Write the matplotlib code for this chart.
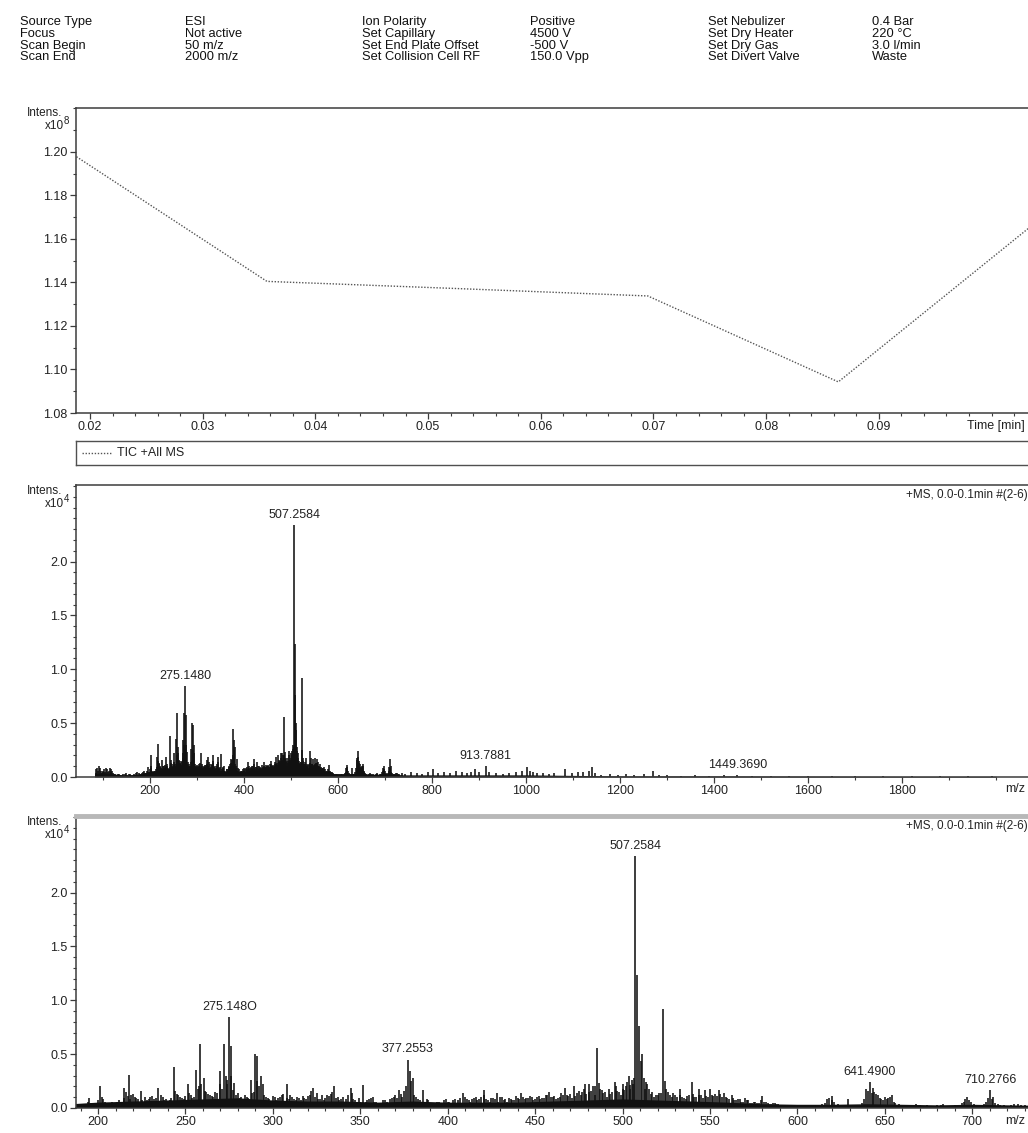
import matplotlib
matplotlib.use("Agg")
import matplotlib.pyplot as plt
from matplotlib.ticker import MultipleLocator, FixedLocator, FormatStrFormatter

plt.rcParams['font.family'] = ['Liberation Sans', 'DejaVu Sans']

W, H = 1028, 1133

# ---------------------------
# header (acquisition parameters)
# ---------------------------
hdr_names1 = ["Source Type", "Focus", "Scan Begin", "Scan End"]
hdr_vals1 = ["ESI", "Not active", "50 m/z", "2000 m/z"]
hdr_names2 = ["Ion Polarity", "Set Capillary", "Set End Plate Offset", "Set Collision Cell RF"]
hdr_vals2 = ["Positive", "4500 V", "-500 V", "150.0 Vpp"]
hdr_names3 = ["Set Nebulizer", "Set Dry Heater", "Set Dry Gas", "Set Divert Valve"]
hdr_vals3 = ["0.4 Bar", "220 °C", "3.0 l/min", "Waste"]

# ---------------------------
# TIC trace (x10^8)
# ---------------------------
tic_time = [0.0188, 0.0357, 0.0526, 0.0695, 0.0864, 0.1033]
tic_int = [1.1978, 1.1405, 1.1372, 1.1338, 1.0943, 1.1650]

# ---------------------------
# mass spectrum, intensities x10^4
# ---------------------------
# labelled / prominent peaks
peak_mz = [201.1, 214.7, 217.6, 224.6, 234.4, 243.3, 251.5, 256.0, 258.2, 260.5,
           269.7, 272.0, 273.2, 275.148, 276.3, 278.0, 287.6, 290.0, 290.8, 293.4,
           294.4, 307.9, 323.0, 335.0, 344.5, 351.8, 372.0, 377.2553, 378.3, 379.2,
           386.0, 409.0, 420.5, 428.0, 442.0, 452.0, 458.0, 467.0, 472.4, 478.5,
           480.7, 483.0, 485.3, 486.3, 495.7, 500.5, 503.7, 505.2, 507.2584, 508.26,
           509.3, 510.3, 511.3, 512.3, 523.3, 524.3, 532.8, 539.6, 543.5, 547.0,
           550.0, 555.0, 558.0, 562.5, 570.0, 580.0, 619.5, 629.0, 639.5, 641.49,
           642.5, 650.0, 654.0, 697.0, 710.2766, 711.3]
peak_int = [0.20, 0.19, 0.31, 0.16, 0.19, 0.38, 0.22, 0.35, 0.59, 0.28,
            0.34, 0.59, 0.30, 0.84, 0.58, 0.23, 0.26, 0.50, 0.48, 0.30,
            0.22, 0.22, 0.19, 0.20, 0.19, 0.21, 0.17, 0.45, 0.34, 0.25,
            0.17, 0.14, 0.17, 0.14, 0.14, 0.11, 0.15, 0.19, 0.20, 0.22,
            0.22, 0.20, 0.56, 0.23, 0.24, 0.22, 0.30, 0.26, 2.34, 1.23,
            0.76, 0.44, 0.50, 0.28, 0.92, 0.25, 0.18, 0.24, 0.18, 0.17,
            0.18, 0.17, 0.14, 0.12, 0.09, 0.11, 0.11, 0.08, 0.18, 0.24,
            0.14, 0.10, 0.12, 0.10, 0.17, 0.08]

# low mass region
low_mz = [85, 86, 88, 89, 91, 93, 95, 97, 99, 101, 103, 105, 107, 109, 110, 112,
          114, 116, 118, 120, 121, 124, 126, 129, 131, 134, 137, 140, 143, 146,
          149, 152, 155, 158, 160, 164, 167, 170, 173, 176, 178, 181, 183, 185,
          187, 189]
low_int = [0.04, 0.07, 0.08, 0.06, 0.10, 0.08, 0.06, 0.04, 0.05, 0.06, 0.07, 0.05,
           0.08, 0.07, 0.05, 0.06, 0.08, 0.05, 0.07, 0.06, 0.04, 0.03, 0.03, 0.02,
           0.03, 0.03, 0.02, 0.02, 0.03, 0.03, 0.04, 0.02, 0.03, 0.03, 0.02, 0.02,
           0.03, 0.04, 0.05, 0.04, 0.03, 0.03, 0.04, 0.05, 0.06, 0.04]

# small peaks 190-730 (first pass)
grass_mz = [190, 192, 194, 195, 197, 199, 203, 205, 207, 209, 211, 213, 216, 219,
            221, 223, 226, 228, 230, 232, 236, 238, 240, 242, 245, 247, 249, 253,
            255, 257, 259, 262, 264, 266, 268, 271, 274, 277, 279, 281, 283, 285,
            289, 292, 295, 297, 299, 301, 303, 305, 309, 311, 313, 315, 317, 319,
            321, 325, 327, 329, 331, 333, 337, 339, 341, 343, 346, 348, 350, 354,
            356, 358, 360, 362, 364, 366, 368, 370, 374, 376, 381, 383, 385, 388,
            390, 392, 394, 396, 398, 400, 402, 404, 406, 411, 413, 415, 417, 419,
            422, 424, 426, 430, 432, 434, 436, 438, 440, 444, 446, 448, 450, 454,
            456, 460, 462, 464, 466, 469, 471, 474, 476, 477, 479, 482, 484, 487,
            489, 491, 493, 494, 497, 499, 501, 502, 504, 506, 513, 514, 516, 518,
            520, 522, 526, 528, 530, 534, 536, 538, 541, 545, 549, 552, 553, 557,
            560, 564, 566, 568, 572, 574, 576, 578, 582, 584, 586, 588, 590, 595,
            598, 602, 605, 608, 611, 614, 617, 621, 624, 627, 632, 635, 638, 644,
            646, 648, 652, 656, 659, 662, 665, 668, 671, 674, 677, 680, 683, 686,
            690, 694, 696, 699, 702, 705, 709, 713, 716, 719, 724, 728]
grass_int = [0.03, 0.02, 0.06, 0.09, 0.04, 0.05, 0.08, 0.03, 0.05, 0.04, 0.06, 0.05, 0.15, 0.12,
             0.10, 0.08, 0.06, 0.07, 0.10, 0.08, 0.12, 0.07, 0.06, 0.09, 0.13, 0.10, 0.08, 0.12,
             0.10, 0.18, 0.22, 0.15, 0.12, 0.10, 0.14, 0.18, 0.22, 0.17, 0.12, 0.09, 0.08, 0.10,
             0.15, 0.20, 0.12, 0.09, 0.06, 0.10, 0.09, 0.12, 0.08, 0.10, 0.07, 0.09, 0.11, 0.08,
             0.12, 0.14, 0.08, 0.07, 0.12, 0.13, 0.10, 0.08, 0.06, 0.12, 0.08, 0.05, 0.06, 0.07,
             0.09, 0.06, 0.04, 0.05, 0.07, 0.05, 0.09, 0.12, 0.10, 0.20, 0.12, 0.08, 0.06, 0.08,
             0.05, 0.04, 0.06, 0.05, 0.07, 0.06, 0.05, 0.08, 0.07, 0.08, 0.06, 0.09, 0.07, 0.10,
             0.08, 0.06, 0.09, 0.10, 0.07, 0.06, 0.08, 0.07, 0.09, 0.08, 0.09, 0.10, 0.08, 0.09,
             0.12, 0.10, 0.08, 0.10, 0.12, 0.11, 0.09, 0.14, 0.12, 0.15, 0.13, 0.16, 0.12, 0.18,
             0.14, 0.10, 0.13, 0.15, 0.16, 0.12, 0.17, 0.20, 0.18, 0.22, 0.18, 0.22, 0.13, 0.10,
             0.12, 0.14, 0.15, 0.10, 0.12, 0.10, 0.08, 0.12, 0.10, 0.12, 0.10, 0.11, 0.13, 0.10,
             0.09, 0.07, 0.08, 0.06, 0.07, 0.05, 0.06, 0.05, 0.06, 0.04, 0.05, 0.04, 0.03, 0.03,
             0.02, 0.03, 0.02, 0.03, 0.02, 0.04, 0.08, 0.06, 0.03, 0.02, 0.02, 0.03, 0.08, 0.15,
             0.12, 0.08, 0.09, 0.05, 0.03, 0.02, 0.03, 0.04, 0.02, 0.03, 0.02, 0.03, 0.04, 0.02,
             0.03, 0.05, 0.08, 0.06, 0.03, 0.03, 0.09, 0.05, 0.03, 0.02, 0.04, 0.03]

# small peaks 190-730 (in between)
grass2_mz = [191, 193, 196, 198, 200, 202, 204, 206, 208, 210, 212, 215, 217, 218, 220,
             222, 225, 227, 229, 231, 233, 235, 237, 239, 241, 244, 246, 248, 250, 252,
             254, 257.5, 261, 263, 265, 267, 270, 273.8, 275.8, 280, 282, 284, 286, 288,
             291, 296, 298, 300, 302, 304, 306, 308, 310, 312, 314, 316, 318, 320, 322,
             324, 326, 328, 330, 332, 334, 336, 338, 340, 342, 345, 347, 349, 353, 355,
             357, 359, 361, 363, 365, 367, 369, 371, 373, 375, 380, 382, 384, 387, 389,
             391, 393, 395, 397, 399, 401, 403, 405, 407, 410, 412, 414, 416, 418, 421,
             423, 425, 427, 429, 431, 433, 435, 437, 439, 441, 443, 445, 447, 449, 451,
             453, 455, 457, 459, 461, 463, 465, 468, 470, 473, 475, 478, 481, 484.3, 488,
             490, 492, 496, 498, 500, 502.7, 504.5, 506.3, 513.5, 515, 517, 519, 521, 525,
             527, 529, 531, 533, 535, 537, 540, 542, 544, 546, 548, 551, 554, 556, 559,
             561, 563, 565, 567, 569, 571, 573, 575, 577, 579, 581, 583, 585, 587, 589,
             592, 597, 600, 604, 607, 610, 613, 616, 618, 620, 623, 626, 630, 634, 637,
             640.5, 643, 645, 647, 649, 651, 653, 655, 658, 664, 670, 676, 682, 688, 692,
             695, 698, 701, 707, 708, 712, 715, 718, 722, 726, 730]
grass2_int = [0.04, 0.03, 0.05, 0.03, 0.07, 0.10, 0.06, 0.04, 0.06, 0.05, 0.07, 0.09, 0.11, 0.08, 0.13,
              0.09, 0.07, 0.10, 0.08, 0.11, 0.09, 0.06, 0.10, 0.08, 0.07, 0.16, 0.12, 0.09, 0.11, 0.14,
              0.09, 0.20, 0.16, 0.13, 0.11, 0.15, 0.22, 0.26, 0.30, 0.14, 0.10, 0.12, 0.09, 0.14,
              0.25, 0.10, 0.08, 0.11, 0.07, 0.10, 0.13, 0.09, 0.12, 0.08, 0.10, 0.07, 0.09, 0.11, 0.16,
              0.10, 0.08, 0.12, 0.09, 0.11, 0.15, 0.09, 0.07, 0.10, 0.08, 0.14, 0.07, 0.09, 0.06, 0.08,
              0.10, 0.06, 0.05, 0.07, 0.06, 0.08, 0.10, 0.09, 0.13, 0.16, 0.28, 0.10, 0.07, 0.05, 0.07,
              0.05, 0.04, 0.06, 0.05, 0.08, 0.06, 0.07, 0.05, 0.09, 0.10, 0.07, 0.08, 0.10, 0.08, 0.12,
              0.07, 0.09, 0.08, 0.06, 0.10, 0.08, 0.09, 0.07, 0.11, 0.08, 0.10, 0.09, 0.11, 0.07, 0.10,
              0.08, 0.09, 0.12, 0.10, 0.11, 0.09, 0.14, 0.12, 0.13, 0.11, 0.16, 0.18, 0.15, 0.20, 0.17,
              0.15, 0.18, 0.20, 0.15, 0.18, 0.24, 0.21, 0.28, 0.24, 0.18, 0.15, 0.12, 0.14, 0.18,
              0.12, 0.14, 0.10, 0.12, 0.09, 0.11, 0.13, 0.10, 0.12, 0.09, 0.11, 0.12, 0.11, 0.13, 0.10,
              0.08, 0.09, 0.07, 0.08, 0.06, 0.07, 0.05, 0.06, 0.05, 0.07, 0.06, 0.05, 0.04, 0.05, 0.04,
              0.03, 0.03, 0.02, 0.02, 0.03, 0.02, 0.03, 0.05, 0.09, 0.07, 0.04, 0.03, 0.02, 0.03, 0.05,
              0.16, 0.19, 0.13, 0.09, 0.07, 0.08, 0.10, 0.06, 0.04, 0.02, 0.03, 0.02, 0.03, 0.02, 0.03,
              0.06, 0.07, 0.04, 0.04, 0.06, 0.10, 0.04, 0.03, 0.03, 0.04, 0.03]

# high mass region
high_mz = [735, 742, 755, 768, 779, 791, 802, 812, 825, 838, 851, 863, 874, 882,
           891, 900, 913.7881, 921, 936, 950, 964, 978, 991, 1002, 1008, 1015, 1023,
           1037, 1048, 1060, 1083, 1098, 1110, 1122, 1133, 1140, 1147, 1160, 1178,
           1195, 1212, 1230, 1250, 1270, 1282, 1300, 1330, 1360, 1390, 1420,
           1449.3690, 1480, 1520, 1560, 1600, 1650, 1700, 1760, 1820, 1880, 1940, 1990]
high_int = [0.04, 0.03, 0.05, 0.04, 0.03, 0.05, 0.07, 0.04, 0.05, 0.04, 0.06, 0.05, 0.04, 0.05,
            0.07, 0.05, 0.10, 0.05, 0.04, 0.03, 0.04, 0.05, 0.06, 0.09, 0.06, 0.05, 0.04,
            0.04, 0.03, 0.04, 0.07, 0.04, 0.05, 0.05, 0.06, 0.09, 0.04, 0.02, 0.03,
            0.02, 0.03, 0.02, 0.03, 0.06, 0.02, 0.02, 0.01, 0.02, 0.01, 0.02,
            0.02, 0.01, 0.01, 0.01, 0.01, 0.01, 0.01, 0.01, 0.01, 0.01, 0.01, 0.01]

# continuous noise floor
floor_mz = [82, 100, 120, 140, 160, 180, 200, 220, 240, 260, 280, 300, 320, 340, 360,
            380, 400, 420, 440, 460, 480, 500, 520, 540, 560, 580, 600, 620, 640, 660,
            680, 700, 720, 740, 800, 900, 1000, 1100, 1200, 1400, 1600, 1800, 2000]
floor_int = [0.03, 0.04, 0.03, 0.02, 0.02, 0.03, 0.05, 0.06, 0.07, 0.08, 0.09, 0.07, 0.06,
             0.06, 0.05, 0.06, 0.05, 0.05, 0.05, 0.06, 0.07, 0.08, 0.07, 0.06, 0.05, 0.035,
             0.03, 0.03, 0.035, 0.03, 0.025, 0.03, 0.025, 0.02, 0.02, 0.02, 0.02, 0.015,
             0.01, 0.01, 0.008, 0.006, 0.006]

full_labels = [(507.2584, "507.2584"), (275.148, "275.1480"),
               (913.7881, "913.7881"), (1449.3690, "1449.3690")]
zoom_labels = [(507.2584, "507.2584"), (275.148, "275.148O"), (377.2553, "377.2553"),
               (641.49, "641.4900"), (710.2766, "710.2766")]

all_mz = low_mz + grass_mz + grass2_mz + peak_mz + high_mz
all_int = low_int + grass_int + grass2_int + peak_int + high_int
lookup = dict(zip(all_mz, all_int))

SPINE = '#3c3c3c'
FS = 9


def box(l, t, r, b):
    return [l / W, 1 - b / H, (r - l) / W, (b - t) / H]


def ftext(x, y, s, **kw):
    fig.text(x / W, 1 - y / H, s, **kw)


def style_axes(ax):
    for sp in ax.spines.values():
        sp.set_color(SPINE)
        sp.set_linewidth(1.1)
    ax.tick_params(which='both', direction='out', colors=SPINE, labelcolor='#222222',
                   labelsize=FS, pad=2)
    ax.tick_params(which='major', length=4, width=0.9)
    ax.tick_params(which='minor', length=2.5, width=0.8)


def intens_label(y, exp):
    ftext(62, y, "Intens.", ha='right', va='center', fontsize=8.5, color='#222222')
    ftext(64, y + 13, "x10", ha='right', va='center', fontsize=8.5, color='#222222')
    ftext(64, y + 8, exp, ha='left', va='center', fontsize=7, color='#222222')


def draw_spectrum(ax):
    ax.fill_between(floor_mz, 0, floor_int, color='#111111', lw=0)
    ax.vlines(all_mz, 0, all_int, color='#111111', lw=1.15)
    ax.set_ylim(0, 2.71)
    ax.yaxis.set_major_locator(FixedLocator([0, 0.5, 1.0, 1.5, 2.0]))
    ax.yaxis.set_minor_locator(MultipleLocator(0.1))
    ax.yaxis.set_major_formatter(FormatStrFormatter('%.1f'))
    ax.text(0.997, 0.985, "+MS, 0.0-0.1min #(2-6)", transform=ax.transAxes,
            ha='right', va='top', fontsize=8.5, color='#222222')


fig = plt.figure(figsize=(W / 100, H / 100), dpi=100)

# header block
cols = [(20, hdr_names1), (185, hdr_vals1), (362, hdr_names2), (530, hdr_vals2),
        (708, hdr_names3), (872, hdr_vals3)]
rows_y = [22, 34, 46, 57]
for cx, items in cols:
    for ry, s in zip(rows_y, items):
        ftext(cx, ry, s, ha='left', va='center', fontsize=9.3, color='#111111')

# ---------------------------
# TIC panel
# ---------------------------
ax1 = fig.add_axes(box(76, 108, 1031, 413))
ax1.plot(tic_time, tic_int, color='#555555', lw=1.0, linestyle=(0, (1, 1.2)))
ax1.set_xlim(0.018757, 0.1035)
ax1.set_ylim(1.08, 1.2202)
ax1.xaxis.set_major_locator(FixedLocator([0.02, 0.03, 0.04, 0.05, 0.06, 0.07, 0.08, 0.09]))
ax1.xaxis.set_minor_locator(MultipleLocator(0.002))
ax1.xaxis.set_major_formatter(FormatStrFormatter('%.2f'))
ax1.yaxis.set_major_locator(FixedLocator([1.08, 1.10, 1.12, 1.14, 1.16, 1.18, 1.20]))
ax1.yaxis.set_minor_locator(MultipleLocator(0.01))
ax1.yaxis.set_major_formatter(FormatStrFormatter('%.2f'))
style_axes(ax1)
intens_label(113, "8")
ftext(1025, 426, "Time [min]", ha='right', va='center', fontsize=FS, color='#222222')

# legend strip
axl = fig.add_axes(box(76, 441, 1031, 465))
axl.set_xlim(0, 955)
axl.set_ylim(0, 1)
axl.set_xticks([])
axl.set_yticks([])
for sp in axl.spines.values():
    sp.set_color('#505050')
    sp.set_linewidth(1.0)
axl.plot([6, 36], [0.5, 0.5], color='#555555', lw=1.0, linestyle=(0, (1, 1.2)))
axl.text(41, 0.5, "TIC +All MS", ha='left', va='center', fontsize=FS, color='#222222')

# ---------------------------
# full range spectrum
# ---------------------------
ax2 = fig.add_axes(box(76, 485, 1031, 777))
draw_spectrum(ax2)
ax2.set_xlim(42.6, 2074)
ax2.xaxis.set_major_locator(FixedLocator([200, 400, 600, 800, 1000, 1200, 1400, 1600, 1800]))
ax2.xaxis.set_minor_locator(FixedLocator([100, 300, 500, 700, 900, 1100, 1300, 1500,
                                          1700, 1900, 2000]))
style_axes(ax2)
for mz, s in full_labels:
    ax2.annotate(s, (mz, lookup[mz]), xytext=(0, 3), textcoords='offset points',
                 ha='center', va='bottom', fontsize=FS, color='#222222')
intens_label(491, "4")
ftext(1025, 789, "m/z", ha='right', va='center', fontsize=FS, color='#222222')

# ---------------------------
# zoomed spectrum
# ---------------------------
ax3 = fig.add_axes(box(76, 816, 1031, 1108))
draw_spectrum(ax3)
ax3.set_xlim(187.4, 733.6)
ax3.xaxis.set_major_locator(MultipleLocator(50))
ax3.xaxis.set_minor_locator(MultipleLocator(10))
style_axes(ax3)
ax3.spines['top'].set_color('#b8b8b8')
ax3.spines['top'].set_linewidth(3.5)
for mz, s in zoom_labels:
    ax3.annotate(s, (mz, lookup[mz]), xytext=(0, 3), textcoords='offset points',
                 ha='center', va='bottom', fontsize=FS, color='#222222')
intens_label(822, "4")
ftext(1025, 1121, "m/z", ha='right', va='center', fontsize=FS, color='#222222')

fig.savefig("out.png", dpi=100)
